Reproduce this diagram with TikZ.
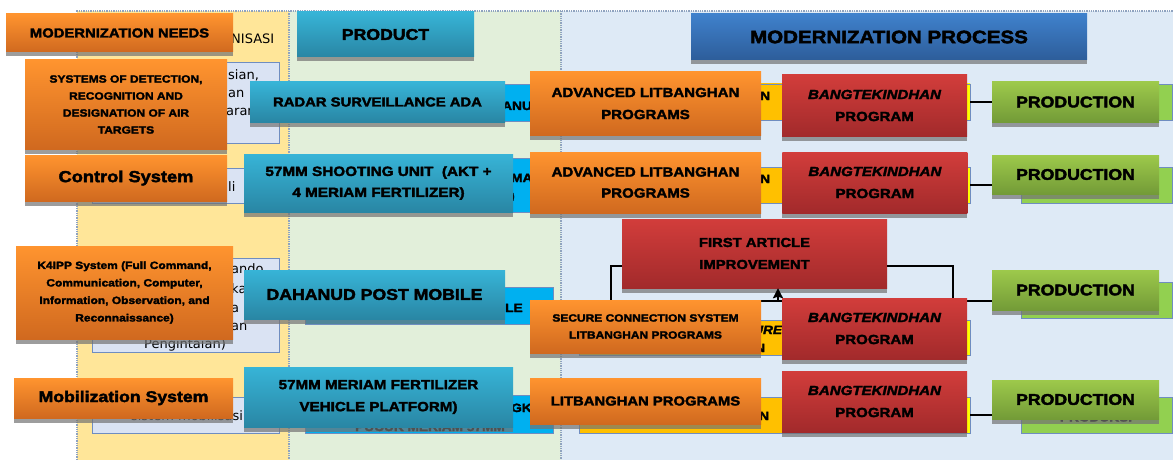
\documentclass[tikz,border=0pt]{standalone}
\usepackage{fontspec}
\setmainfont{Liberation Sans}
\newfontfamily\heavyfont{Liberation Sans Bold}[FakeBold=2.5,FakeStretch=1.14]
\newfontfamily\heavyitfont{Liberation Sans Bold Italic}[FakeBold=2.5,FakeStretch=1.14]
\newfontfamily\slidefont{DejaVu Sans}
\usepackage{tikz}
\usetikzlibrary{
        arrows,
        arrows.meta,
        backgrounds,
        positioning,
        shadows
    }
\definecolor{needpanel}{HTML}{FFE699}
\definecolor{prodpanel}{HTML}{E2EFDA}
\definecolor{procpanel}{HTML}{DEEAF6}
\definecolor{panelline}{HTML}{8FA3BF}
\definecolor{oldneedfill}{HTML}{DAE3F3}
\definecolor{oldline}{HTML}{6F8DC0}
\definecolor{oldprodfill}{HTML}{00B0F0}
\definecolor{oldprocfill}{HTML}{FFC000}
\definecolor{oldprocend}{HTML}{FFFF00}
\definecolor{oldmakefill}{HTML}{92D050}
\definecolor{needtop}{HTML}{FF942F}
\definecolor{needbot}{HTML}{D0691F}
\definecolor{prodtop}{HTML}{37B4D7}
\definecolor{prodbot}{HTML}{2986A4}
\definecolor{proctop}{HTML}{3F81CC}
\definecolor{procbot}{HTML}{2D5D9A}
\definecolor{bangtop}{HTML}{D23D3B}
\definecolor{bangbot}{HTML}{A22A2B}
\definecolor{maketop}{HTML}{9DC94B}
\definecolor{makebot}{HTML}{739B37}
\pgfdeclarehorizontalshading{procshade}{100bp}{color(0bp)=(oldprocfill); color(73bp)=(oldprocfill); color(74.5bp)=(oldprocend); color(100bp)=(oldprocend)}
\tikzset{>={Stealth[length=10pt,width=10pt,inset=1.5pt]},node distance=2cm}
\tikzset{
    boxsize/.style 2 args={minimum width=#1pt,minimum height=#2pt},
    txt/.style 2 args={font=\heavyfont\fontsize{#1}{#2}\selectfont},
    card/.style={inner sep=0pt,align=center,text=black,
        drop shadow={shadow xshift=0pt,shadow yshift=-4.5pt,fill=black!55,opacity=.7}},
    needcard/.style={card,top color=needtop,bottom color=needbot},
    prodcard/.style={card,top color=prodtop,bottom color=prodbot},
    proccard/.style={card,top color=proctop,bottom color=procbot},
    bangcard/.style={card,top color=bangtop,bottom color=bangbot},
    makecard/.style={card,top color=maketop,bottom color=makebot},
    oldneed/.style={inner sep=0pt,draw=oldline,line width=.9pt,fill=oldneedfill},
    oldprod/.style={inner sep=0pt,draw=oldline,line width=.9pt,fill=oldprodfill},
    oldproc/.style={inner sep=0pt,draw=oldline,line width=.9pt,shading=procshade},
    oldmake/.style={inner sep=0pt,draw=oldline,line width=.9pt,fill=oldmakefill},
    frag/.style={inner sep=0pt,anchor=base west,font=\slidefont\fontsize{13}{15}\selectfont},
    fragb/.style={inner sep=0pt,anchor=base west,font=\heavyfont\fontsize{12}{14}\selectfont},
    link/.style={draw=black,line width=2.6pt}
}

\begin{document}
\begin{tikzpicture}[x=1pt,y=-1pt]
    \useasboundingbox (0,0) rectangle (1173,460);
    \fill[needpanel] (77,11) rectangle (289,460);
    \fill[prodpanel] (289,11) rectangle (561,460);
    \fill[procpanel] (561,11) rectangle (1173,460);
    \draw[panelline,densely dotted,line width=1.3pt] (77,460) -- (77,11) -- (1173,11);
    \draw[panelline,densely dotted,line width=1.3pt] (289,11) -- (289,460);
    \draw[panelline,densely dotted,line width=1.3pt] (561,11) -- (561,460);

    \node[oldneed, boxsize={187}{81}] (oldneed1) at (185.5,102.5) {};
    \node[oldneed, boxsize={187}{35}] (oldneed2) at (185.5,185.5) {};
    \node[oldneed, boxsize={187}{94}] (oldneed3) at (185.5,305) {};
    \node[oldneed, boxsize={187}{36}] (oldneed4) at (185.5,415) {};
    \node[oldprod, boxsize={250}{37}] (oldprod1) at (430,102.5) {};
    \node[oldprod, boxsize={250}{54}] (oldprod2) at (430,185) {};
    \node[oldprod, boxsize={248}{37}] (oldprod3) at (429,305.5) {};
    \node[oldprod, boxsize={248}{38}] (oldprod4) at (429,414) {};
    \node[oldproc, boxsize={391}{36}] (oldproc1) at (774.5,102) {};
    \node[oldproc, boxsize={391}{36}] (oldproc2) at (774.5,185) {};
    \node[oldproc, boxsize={391}{35}] (oldproc3) at (774.5,337.5) {};
    \node[oldproc, boxsize={391}{36}] (oldproc4) at (774.5,415) {};
    \node[oldmake, boxsize={151}{36}] (oldmake1) at (1096.5,102) {};
    \node[oldmake, boxsize={151}{36}] (oldmake2) at (1096.5,185) {};
    \node[oldmake, boxsize={151}{36}] (oldmake3) at (1096.5,300) {};
    \node[oldmake, boxsize={151}{36}] (oldmake4) at (1096.5,415) {};

    \node[frag] (needtail) at (231,44) {NISASI};
    \node[frag] (tail1a) at (228,80) {sian,};
    \node[frag] (tail1b) at (228,97) {an};
    \node[frag] (tail1c) at (226,115) {aran};
    \node[frag] (tail2) at (228,191) {li};
    \node[frag] (tail3a) at (231,273) {ando};
    \node[frag] (tail3b) at (231,293) {ka};
    \node[frag] (tail3c) at (231,312) {a};
    \node[frag] (tail3d) at (231,330) {an};
    \node[frag, anchor=base] (tail3e) at (185,348) {Pengintaian)};
    \node[frag, anchor=base] (tail4) at (187,420) {sistem mobilisasi};
    \node[fragb] (ptail1) at (502,110) {ANUD};
    \node[fragb] (ptail2a) at (511,182) {MA};
    \node[fragb] (ptail2b) at (510,200) {)};
    \node[fragb] (ptail3) at (505,312) {LE};
    \node[fragb] (ptail4a) at (511,412) {GKU};
    \node[fragb, anchor=base] (ptail4b) at (430,431) {PUCUK MERIAM 57MM};
    \node[fragb] (rtail1) at (760,100) {N};
    \node[fragb] (rtail2) at (760,183) {N};
    \node[fragb, font=\heavyitfont\fontsize{12}{14}\selectfont] (rtail3a) at (753,334) {URE};
    \node[fragb] (rtail3b) at (755,352) {N};
    \node[fragb] (rtail4) at (759,420) {N};
    \node[fragb, anchor=base] (mtail4) at (1096,421.5) {PRODUKSI};

    \node[bangcard, boxsize={265}{69}, txt={13}{22}] (fai) at (754.5,253.5) {FIRST ARTICLE\\ IMPROVEMENT};
    \coordinate (faiL) at (611,301);
    \coordinate (faiR) at (953,301);
    \coordinate (faiUp) at (778,301);
    \draw[link] ([yshift=-12.5pt]fai.west) -| (faiL) -- (faiR) |- ([yshift=-12.5pt]fai.east);
    \draw[link] (faiR) -- (faiR -| oldmake3.west);
    \draw[link,->] (faiUp) -- (faiUp |- fai.south);
    \draw[link] (oldproc1.east) -- (oldproc1.east -| oldmake1.west);
    \draw[link] (oldproc2.east) -- (oldproc2.east -| oldmake2.west);
    \draw[link] (oldproc4.east) -- (oldproc4.east -| oldmake4.west);

    \node[needcard, boxsize={227}{38}, txt={13}{16}] (needhead) at (119.5,33) {MODERNIZATION NEEDS};
    \node[needcard, boxsize={202}{89}, txt={10.5}{17}] (need1) at (126,104.5) {SYSTEMS OF DETECTION,\\ RECOGNITION AND\\ DESIGNATION OF AIR\\ TARGETS};
    \node[needcard, boxsize={202}{46}, txt={16}{18}] (need2) at (126,178) {Control System};
    \node[needcard, boxsize={217}{93}, txt={10.5}{17.5}] (need3) at (124.5,292.5) {K4IPP System (Full Command,\\ Communication, Computer,\\ Information, Observation, and\\ Reconnaissance)};
    \node[needcard, boxsize={219}{40}, txt={15.5}{18}] (need4) at (123.5,398) {Mobilization System};

    \node[prodcard, boxsize={177}{45}, txt={15.5}{18}] (prodhead) at (385.5,34.5) {PRODUCT};
    \node[prodcard, boxsize={255}{40}, txt={13}{16}] (prod1) at (377.5,102) {RADAR SURVEILLANCE ADA};
    \node[prodcard, boxsize={269}{58}, txt={13.4}{21}] (prod2) at (378.5,183) {57MM SHOOTING UNIT\ \ (AKT +\\ 4 MERIAM FERTILIZER)};
    \node[prodcard, boxsize={261}{49}, txt={15.5}{18}] (prod3) at (374.5,294.5) {DAHANUD POST MOBILE};
    \node[prodcard, boxsize={269}{60}, txt={13.3}{22}] (prod4) at (378.5,397) {57MM MERIAM FERTILIZER\\ VEHICLE PLATFORM)};

    \node[proccard, boxsize={396}{46}, txt={18}{20}] (prochead) at (889,37) {MODERNIZATION PROCESS};
    \node[needcard, boxsize={231}{63}, txt={13.2}{22}] (lit1) at (645.5,103.5) {ADVANCED LITBANGHAN\\ PROGRAMS};
    \node[needcard, boxsize={231}{61}, txt={13.2}{21}] (lit2) at (645.5,182.5) {ADVANCED LITBANGHAN\\ PROGRAMS};
    \node[needcard, boxsize={231}{53}, txt={10.5}{17}] (lit3) at (645.5,326.5) {SECURE CONNECTION SYSTEM\\ LITBANGHAN PROGRAMS};
    \node[needcard, boxsize={231}{46}, txt={13}{16}] (lit4) at (645.5,401) {LITBANGHAN PROGRAMS};

    \node[bangcard, boxsize={185}{61}, txt={13.2}{22}] (bang1) at (874.5,105.5) {{\heavyitfont BANGTEKINDHAN}\\ PROGRAM};
    \node[bangcard, boxsize={185}{61}, txt={13.2}{22}, right=21pt of lit2] (bang2) {{\heavyitfont BANGTEKINDHAN}\\ PROGRAM};
    \node[bangcard, boxsize={185}{61}, txt={13.2}{22}] (bang3) at (874.5,328.5) {{\heavyitfont BANGTEKINDHAN}\\ PROGRAM};
    \node[bangcard, boxsize={185}{61}, txt={13.2}{22}] (bang4) at (874.5,401.5) {{\heavyitfont BANGTEKINDHAN}\\ PROGRAM};

    \node[makecard, boxsize={167}{40}, txt={15.5}{18}] (make1) at (1075.5,102) {PRODUCTION};
    \node[makecard, boxsize={167}{39}, txt={15.5}{18}] (make2) at (1075.5,174.5) {PRODUCTION};
    \node[makecard, boxsize={167}{40}, txt={15.5}{18}] (make3) at (1075.5,290) {PRODUCTION};
    \node[makecard, boxsize={167}{39}, txt={15.5}{18}] (make4) at (1075.5,399.5) {PRODUCTION};
\end{tikzpicture}
\end{document}
